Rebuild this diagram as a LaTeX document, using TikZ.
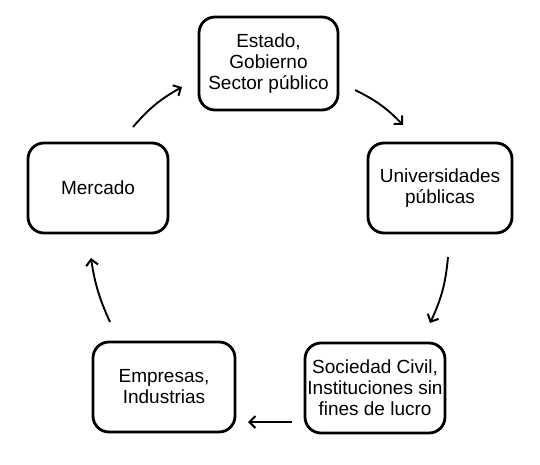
\documentclass[tikz,border=0pt]{standalone}
\usepackage{fontspec}
\setmainfont{Liberation Sans}
\usetikzlibrary{arrows.meta}
\begin{document}
\begin{tikzpicture}[x=1pt,y=-1pt,
  box/.style={draw, line width=2.8pt, rounded corners=16pt, align=center,
    inner sep=0pt, font=\fontsize{19}{21}\selectfont},
  flow/.style={line width=1.9pt, -{Straight Barb[length=6pt,width=12pt,line width=2pt]}}]
\useasboundingbox (0,0) rectangle (540,465);
\node[box, minimum width=139pt, minimum height=93pt] (est) at (268.5,63.5) {Estado,\\Gobierno\\Sector público};
\node[box, minimum width=144pt, minimum height=90pt] (uni) at (440,188) {Universidades\\públicas};
\node[box, minimum width=140pt, minimum height=90pt] (soc) at (375,388) {Sociedad Civil,\\Instituciones sin\\fines de lucro};
\node[box, minimum width=142pt, minimum height=90pt] (emp) at (164,387) {Empresas,\\Industrias};
\node[box, minimum width=140pt, minimum height=90pt] (mer) at (98,188) {Mercado};
\coordinate (a1s) at (133,127); \coordinate (a1e) at (182,87);
\coordinate (a2s) at (355,90);  \coordinate (a2e) at (403,125);
\coordinate (a3s) at (448,257); \coordinate (a3e) at (430,323);
\coordinate (a4s) at (292,422); \coordinate (a4e) at (248,422);
\coordinate (a5s) at (110,322); \coordinate (a5e) at (91,258);
\draw[flow] (a1s) to[bend left=10] (a1e);
\draw[flow] (a2s) to[bend left=10] (a2e);
\draw[flow] (a3s) to[bend left=10] (a3e);
\draw[flow] (a4s) -- (a4e);
\draw[flow] (a5s) to[bend left=8] (a5e);
\end{tikzpicture}
\end{document}
